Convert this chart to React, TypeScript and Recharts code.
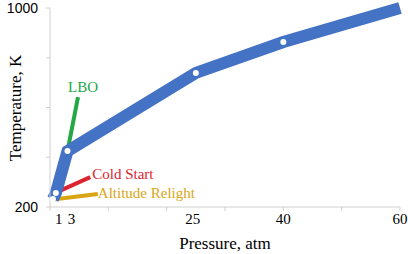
import { Line, LineChart, XAxis, YAxis } from "recharts";

const FONT = "'Liberation Serif', 'Times New Roman', serif";
const SANS = "'Liberation Sans', Arial, sans-serif";

// main operating line (pressure atm, temperature K)
const mainPressure = [0.5, 1, 3, 25, 40, 60];
const mainTemp = [232, 256, 425, 739, 863, 1000];

const lboPressure = [3, 4.8];
const lboTemp = [425, 642];

const coldPressure = [1, 6.9];
const coldTemp = [258, 320];

const reliPressure = [0.5, 8.2];
const reliTemp = [230, 252];

const xTicks = [0, 1, 3, 10, 20, 25, 30, 40, 50, 60];
const xLabels = [1, 3, 25, 40, 60];
const yTicks = [200, 400, 600, 800, 1000];

const zip = (p: number[], t: number[]) => p.map((v, i) => ({ p: v, t: t[i] }));

const mainData = zip(mainPressure, mainTemp);
const lboData = zip(lboPressure, lboTemp);
const coldData = zip(coldPressure, coldTemp);
const reliData = zip(reliPressure, reliTemp);

// small nudges so the crowded labels sit like the original
const labelNudge: Record<number, number> = { 1: 3, 3: 4, 25: -3 };

function XTick({ x, y, payload }: any) {
  const v = payload.value;
  return (
    <g>
      {v % 10 === 0 && <line x1={x} x2={x} y1={y - 6} y2={y - 2} stroke="#d0d0d0" />}
      {xLabels.includes(v) && (
        <text x={x + (labelNudge[v] || 0)} y={y} dy="0.71em" textAnchor="middle" fontSize={15} fontFamily={FONT} fill="#000">
          {v}
        </text>
      )}
    </g>
  );
}

function endLabel(text: string, color: string, dx: number, dy: number, anchor: string, n: number) {
  return (props: any) => {
    if (props.index !== n - 1) return null;
    return (
      <text
        x={props.x + dx}
        y={props.y + dy}
        dominantBaseline="central"
        textAnchor={anchor}
        fontSize={15}
        fontFamily={FONT}
        fill={color}
      >
        {text}
      </text>
    );
  };
}

function MainDot(props: any) {
  if (props.index === mainData.length - 1) return null;
  return <circle key={props.index} cx={props.cx} cy={props.cy} r={3} fill="#fff" />;
}

export default function App() {
  return (
    <div style={{ position: "absolute", left: 0, top: 0, fontFamily: FONT, background: "#fff" }}>
      <LineChart width={408} height={254} margin={{ top: 8, right: 8, bottom: 0, left: 0 }}>
        <XAxis
          type="number"
          dataKey="p"
          domain={[0, 60]}
          ticks={xTicks}
          interval={0}
          tickSize={4}
          tickMargin={2}
          tickLine={false}
          tick={<XTick />}
          height={47}
          stroke="#d0d0d0"
          label={{
            content: () => (
              <text x={225} y={243} textAnchor="middle" dominantBaseline="central" fontSize={17} fontFamily={FONT} fill="#000">
                Pressure, atm
              </text>
            ),
          }}
        />
        <YAxis
          type="number"
          dataKey="t"
          domain={[200, 1000]}
          ticks={yTicks}
          interval={0}
          width={50}
          tickSize={4}
          tickMargin={8}
          stroke="#d0d0d0"
          tick={{ fill: "#000", fontSize: 14, fontFamily: SANS }}
          tickFormatter={(v: number) => (v === 200 || v === 1000 ? String(v) : "")}
          label={{
            content: () => (
              <text
                x={15}
                y={108}
                transform="rotate(-90 15 108)"
                textAnchor="middle"
                dominantBaseline="central"
                fontSize={17}
                fontFamily={FONT}
                fill="#000"
              >
                Temperature, K
              </text>
            ),
          }}
        />
        <Line
          data={lboData}
          dataKey="t"
          stroke="#22a845"
          strokeWidth={4}
          dot={false}
          isAnimationActive={false}
          label={endLabel("LBO", "#22a845", 5, -10, "middle", lboData.length)}
        />
        <Line
          data={coldData}
          dataKey="t"
          stroke="#dc2430"
          strokeWidth={4}
          dot={false}
          isAnimationActive={false}
          label={endLabel("Cold Start", "#dc2430", 2, -3, "start", coldData.length)}
        />
        <Line
          data={reliData}
          dataKey="t"
          stroke="#d9a514"
          strokeWidth={4}
          dot={false}
          isAnimationActive={false}
          label={endLabel("Altitude Relight", "#d9a514", 0, -1, "start", reliData.length)}
        />
        <Line
          data={mainData}
          dataKey="t"
          stroke="#4472c4"
          strokeWidth={12}
          strokeLinejoin="miter"
          dot={<MainDot />}
          activeDot={false}
          isAnimationActive={false}
        />
      </LineChart>
    </div>
  );
}
